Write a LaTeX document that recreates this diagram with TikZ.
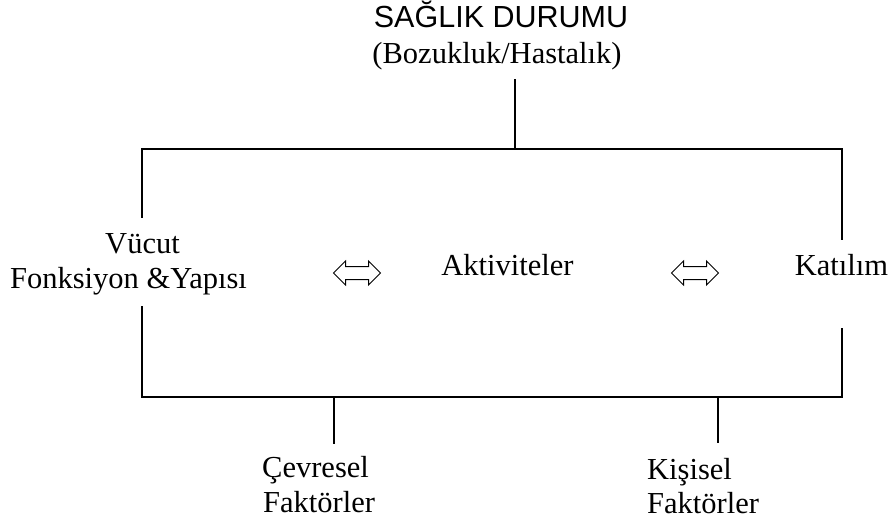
\documentclass[tikz,border=0pt]{standalone}
\usepackage{fontspec}
\setmainfont{Liberation Serif}
\setsansfont{Liberation Sans}
\usetikzlibrary{shapes.arrows}
\begin{document}
\begin{tikzpicture}[x=1pt,y=-1pt,
  lbl/.style={font=\fontsize{30.5}{36}\selectfont, inner sep=0pt, anchor=base},
  lblw/.style={lbl, anchor=base west},
  conn/.style={line width=1.6pt, line cap=rect},
  dbl/.style={double arrow, draw, line width=1pt, inner sep=0pt,
    text height=6pt, text depth=6pt, text width=0pt,
    minimum height=47pt, double arrow head extend=5.5pt}]
\useasboundingbox (0,0) rectangle (891,525);
% texts
\node[lbl, font=\sffamily\fontsize{30.5}{36}\selectfont] (title) at (501,27) {SAĞLIK DURUMU};
\node[lbl] (sub) at (497,63) {(Bozukluk/Hastalık)};
\node[lbl] (vucut) at (142.5,253) {Vücut};
\node[lbl] (fonk) at (128.5,288) {Fonksiyon \&Yapısı};
\node[lbl] (akt) at (507.5,275) {Aktiviteler};
\node[lbl] (kat) at (841.5,275) {Katılım};
\node[lblw] (cev) at (262,477) {Çevresel};
\node[lblw] (cevf) at (263,512) {Faktörler};
\node[lblw] (kis) at (647,479) {Kişisel};
\node[lblw] (kisf) at (647,513) {Faktörler};
% double arrows
\node[dbl] (a1) at (357,273) {};
\node[dbl] (a2) at (695,273) {};
% connector points
\coordinate (t0) at (515,80);
\coordinate (tm) at (515,149);
\coordinate (tl) at (142,149);
\coordinate (tr) at (842,149);
\coordinate (l1) at (142,217);
\coordinate (r1) at (842,239);
\coordinate (l2) at (142,307);
\coordinate (bl) at (142,397);
\coordinate (br) at (842,397);
\coordinate (r2) at (842,329);
\coordinate (c1) at (334,397);
\coordinate (c2) at (334,443);
\coordinate (k1) at (718,397);
\coordinate (k2) at (718,442);
% connectors
\draw[conn] (t0) -- (tm);
\draw[conn] (l1) -- (tl) -- (tr) -- (r1);
\draw[conn] (l2) -- (bl) -- (br) -- (r2);
\draw[conn] (c1) -- (c2);
\draw[conn] (k1) -- (k2);
\end{tikzpicture}
\end{document}
